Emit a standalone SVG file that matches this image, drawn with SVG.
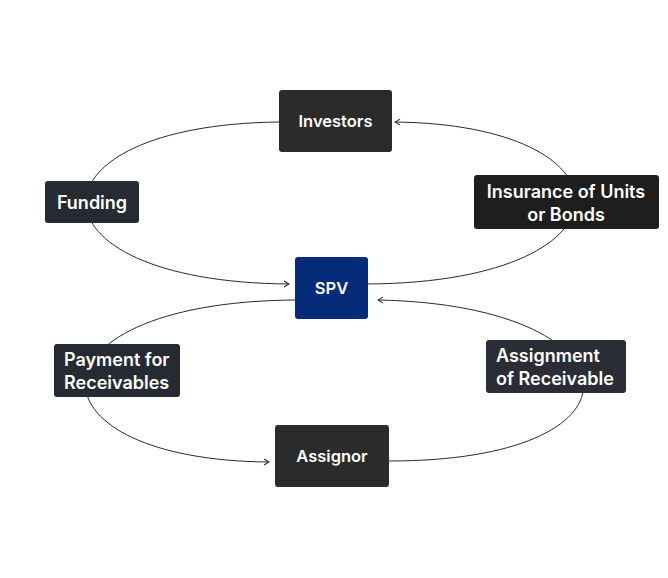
<svg xmlns="http://www.w3.org/2000/svg" width="668" height="578" viewBox="0 0 668 578">
<style>
.t{font-family:Inter,"Liberation Sans",sans-serif;font-size:16.5px;font-weight:600;fill:#ffffff}
.l{font-size:18px}
.c{fill:none;stroke:#2a2a2a;stroke-width:1}
</style>
<defs>
<marker id="ah" viewBox="0 0 8 8" refX="7" refY="4" markerWidth="8" markerHeight="8" markerUnits="userSpaceOnUse" orient="auto">
<path d="M2,1 L7,4 L2,7" fill="none" stroke="#2a2a2a" stroke-width="1"/>
</marker>
</defs>
<rect width="668" height="578" fill="#ffffff"/>
<g id="connectors">
<path class="c" d="M279,122 C20,125 20,282 289,284" marker-end="url(#ah)"/>
<path class="c" d="M368,284 C640,282 640,125 395,122" marker-end="url(#ah)"/>
<path class="c" d="M295,300 C20,302 20,460 269,462" marker-end="url(#ah)"/>
<path class="c" d="M389,461 C660,461 640,305 378,300" marker-end="url(#ah)"/>
</g>
<g id="investors">
<rect x="279" y="90" width="113" height="62" rx="3" fill="#2b2b2b"/>
<text class="t" x="335.5" y="127" text-anchor="middle">Investors</text>
</g>
<g id="funding">
<rect x="45" y="181" width="94" height="42" rx="3" fill="#262a33"/>
<text class="t l" x="92" y="208.5" text-anchor="middle">Funding</text>
</g>
<g id="insurance">
<rect x="474" y="175" width="185" height="54" rx="3" fill="#1e1e1e"/>
<text class="t l" x="566" y="197.5" text-anchor="middle">Insurance of Units</text>
<text class="t l" x="566" y="220.5" text-anchor="middle">or Bonds</text>
</g>
<g id="spv">
<rect x="295" y="257" width="73" height="62" rx="3" fill="#062b7a"/>
<text class="t" x="331.5" y="294" text-anchor="middle">SPV</text>
</g>
<g id="payment">
<rect x="54" y="344" width="126" height="53" rx="3" fill="#262a33"/>
<text class="t l" x="64" y="365.5">Payment for</text>
<text class="t l" x="64" y="388.5">Receivables</text>
</g>
<g id="assignment">
<rect x="486" y="340" width="140" height="53" rx="3" fill="#2a2d35"/>
<text class="t l" x="496" y="361.5">Assignment</text>
<text class="t l" x="496" y="384.5">of Receivable</text>
</g>
<g id="assignor">
<rect x="275" y="425" width="114" height="62" rx="3" fill="#2b2b2b"/>
<text class="t" x="332" y="462" text-anchor="middle">Assignor</text>
</g>
</svg>
